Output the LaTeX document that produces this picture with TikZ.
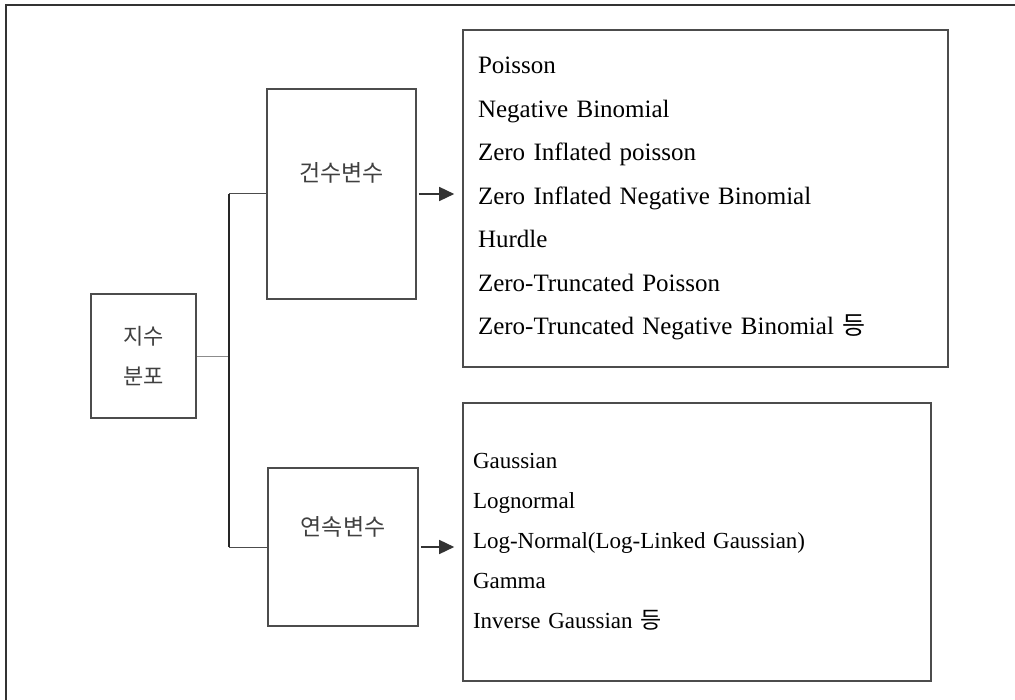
\documentclass[tikz,border=0pt]{standalone}
\usepackage{fontspec}
\setmainfont[WordSpace=2.4]{Liberation Serif}
\newfontfamily\kr{Noto Sans CJK KR}
\usetikzlibrary{arrows.meta,positioning,calc}
\tikzset{
  diagarr/.style={-{Triangle[length=15pt,width=14pt]}, line width=1.5pt, draw=black!80, shorten <=2pt, shorten >=8pt},
  diagnode/.style={draw=black!70, line width=1.6pt, inner sep=0pt},
  diaglbl/.style={font=\kr\fontsize{23}{28}\selectfont, text=black!75},
}

\begin{document}
\begin{tikzpicture}[
  x=1pt, y=-1pt,
  catbox/.style={diagnode},
  listbox/.style={diagnode, align=left, inner ysep=0pt},
]
  \useasboundingbox (0,0) rectangle (1015,700);
  \draw[line width=1.6pt, black!80] (1016,5) -- (6,5) -- (6,701);

  \node[catbox, minimum width=105pt, minimum height=124pt, align=center, text=black!75, font=\kr\fontsize{22}{40}\selectfont] (exp) at (143.5,356) {지수\\분포};

  \node[catbox, minimum width=149pt, minimum height=210pt, label={[diaglbl, yshift=21pt]center:건수변수}] (cnt) at (341.5,194) {};
  \node[catbox, minimum width=150pt, minimum height=158pt, label={[diaglbl, yshift=20pt]center:연속변수}] (cont) at (343,547) {};

  \node[listbox, minimum width=485pt, minimum height=337pt, inner xsep=15pt, text width=455pt, font=\fontsize{25}{43.5}\selectfont] (cntlist) at (705.5,198.5)
    {Poisson\\Negative Binomial\\Zero Inflated poisson\\Zero Inflated Negative Binomial\\Hurdle\\Zero-Truncated Poisson\\Zero-Truncated Negative Binomial {\kr 등}};
  \node[listbox, minimum width=468pt, minimum height=278pt, inner xsep=10pt, text width=448pt, font=\fontsize{23}{40}\selectfont] (contlist) at (697,542)
    {Gaussian\\Lognormal\\Log-Normal(Log-Linked Gaussian)\\Gamma\\Inverse Gaussian {\kr 등}};

  \coordinate (spine) at (229,358);
  \draw[line width=0.8pt, black!45] (exp.east) -- (exp.east -| spine);
  \draw[line width=1.6pt, black!85] (cnt.west -| spine) -- (cont.west -| spine);
  \foreach \n in {cnt,cont}
    \draw[line width=1pt, black!70] (\n.west -| spine) -- (\n.west);
  \foreach \a/\b in {cnt/cntlist,cont/contlist}
    \draw[diagarr] (\a.east) -- (\a.east -| \b.west);
\end{tikzpicture}
\end{document}
